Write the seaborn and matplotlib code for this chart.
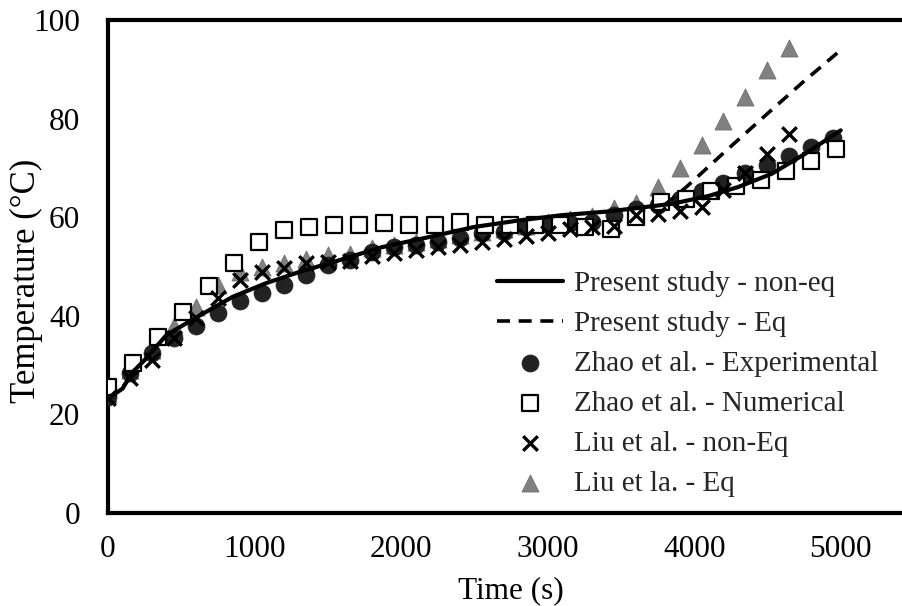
import matplotlib
matplotlib.use("Agg")
import matplotlib.pyplot as plt
import seaborn as sns
import numpy as np

# ---------------- data ----------------
# Present study - non-eq (solid line)
line_noneq_t = [0, 100, 160, 250, 400, 630, 850, 1080, 1310, 1540, 1870, 2200,
                2500, 2800, 3100, 3400, 3600, 3850, 4100, 4300, 4530, 4760, 5000]
line_noneq_T = [23.2, 25.2, 28.3, 31.0, 36.1, 40.1, 43.8, 46.6, 48.9, 50.9, 53.9, 56.0,
                58.0, 59.3, 60.4, 61.1, 61.8, 62.7, 64.3, 66.1, 68.8, 72.9, 77.6]

# Present study - Eq (dashed line, visible part)
line_eq_t = [3800, 3950, 4200, 4500, 4750, 5000]
line_eq_T = [62.5, 66.2, 73.0, 81.0, 87.6, 93.9]

# Zhao et al. - Experimental (filled circles)
zhao_exp_t = [0, 150, 300, 450, 600, 750, 900, 1050, 1200, 1350, 1500, 1650,
              1800, 1950, 2100, 2250, 2400, 2550, 2700, 2850, 3000, 3150, 3300,
              3450, 3600, 3750, 3900, 4050, 4200, 4350, 4500, 4650, 4800, 4950]
zhao_exp_T = [23.5, 28.4, 32.5, 35.4, 37.9, 40.6, 43.0, 44.5, 46.3, 48.2, 50.3, 51.3,
              53.0, 53.9, 54.3, 55.0, 55.7, 56.7, 57.0, 57.9, 58.4, 58.7, 59.1,
              60.4, 61.6, 62.5, 63.6, 65.2, 67.0, 68.9, 70.6, 72.4, 74.3, 76.0]

# Zhao et al. - Numerical (open squares)
zhao_num_t = [0, 171, 343, 514, 686, 857, 1029, 1200, 1371, 1543, 1714, 1886,
              2057, 2229, 2400, 2571, 2743, 2914, 3086, 3257, 3429, 3600, 3771,
              3943, 4114, 4286, 4457, 4629, 4800, 4971]
zhao_num_T = [25.6, 30.3, 35.6, 40.8, 46.0, 50.6, 55.0, 57.4, 58.0, 58.4, 58.4, 58.7,
              58.4, 58.4, 58.9, 58.4, 58.4, 58.4, 58.4, 58.0, 57.5, 60.1, 63.1,
              63.6, 65.2, 66.3, 67.5, 69.4, 71.4, 73.8]

# Liu et al. - non-Eq (crosses)
liu_noneq_t = [0, 150, 300, 450, 600, 750, 900, 1050, 1200, 1350, 1500, 1650,
               1800, 1950, 2100, 2250, 2400, 2550, 2700, 2850, 3000, 3150, 3300,
               3450, 3600, 3750, 3900, 4050, 4200, 4350, 4500, 4650]
liu_noneq_T = [23.2, 27.3, 31.0, 35.4, 39.5, 43.5, 47.2, 48.9, 49.6, 50.6, 50.9, 51.1,
               52.0, 52.8, 53.3, 54.0, 54.3, 55.0, 55.5, 56.2, 56.8, 57.5, 58.0,
               58.2, 60.4, 60.6, 61.3, 62.1, 65.5, 68.9, 72.9, 76.8]

# Liu et la. - Eq (grey triangles)
liu_eq_t = [0, 150, 300, 450, 600, 750, 900, 1050, 1200, 1350, 1500, 1650,
            1800, 1950, 2100, 2250, 2400, 2550, 2700, 2850, 3000, 3150, 3300,
            3450, 3600, 3750, 3900, 4050, 4200, 4350, 4500, 4650]
liu_eq_T = [24.0, 29.0, 33.0, 37.8, 41.8, 46.2, 48.9, 49.9, 50.6, 51.4, 52.3, 52.6,
            53.7, 54.3, 55.0, 55.6, 56.3, 57.0, 57.6, 58.2, 58.9, 59.6, 60.3,
            61.8, 62.8, 66.2, 69.9, 74.6, 79.4, 84.4, 89.9, 94.3]

x_ticks = [0, 1000, 2000, 3000, 4000, 5000]
y_ticks = [0, 20, 40, 60, 80, 100]
x_label = "Time (s)"
y_label = "Temperature (°C)"
labels = ["Present study - non-eq", "Present study - Eq",
          "Zhao et al. - Experimental", "Zhao et al. - Numerical",
          "Liu et al. - non-Eq", "Liu et la. - Eq"]

# ---------------- plotting ----------------
sns.set_style("white")
plt.rcParams["font.family"] = ["Liberation Serif", "DejaVu Serif"]

fig = plt.figure(figsize=(9.02, 6.06), dpi=100)
ax = fig.add_axes([108 / 902, (606 - 512.7) / 606, (914 - 108) / 902, (512.7 - 20) / 606])

sns.lineplot(x=line_noneq_t, y=line_noneq_T, ax=ax, color="black", linewidth=3.0,
             label=labels[0], zorder=6)
sns.lineplot(x=line_eq_t, y=line_eq_T, ax=ax, color="black", linewidth=2.6,
             linestyle=(0, (3.6, 2.4)), label=labels[1], zorder=6)
sns.scatterplot(x=zhao_exp_t, y=zhao_exp_T, ax=ax, marker="o", s=150, color="#222222",
                edgecolor="#222222", linewidth=0.5, label=labels[2], zorder=3)
sns.scatterplot(x=zhao_num_t, y=zhao_num_T, ax=ax, marker="s", s=120, facecolor="white",
                edgecolor="black", linewidth=1.6, label=labels[3], zorder=4)
sns.scatterplot(x=liu_noneq_t, y=liu_noneq_T, ax=ax, marker="x", s=110, color="black",
                linewidth=2.4, label=labels[4], zorder=5)
sns.scatterplot(x=liu_eq_t, y=liu_eq_T, ax=ax, marker="^", s=150, color="#808080",
                edgecolor="#6e6e6e", linewidth=0.6, label=labels[5], zorder=2)

ax.set_xlim(0, 5500)
ax.set_ylim(0, 100)
ax.set_xticks(x_ticks)
ax.set_yticks(y_ticks)
ax.tick_params(axis="both", length=0, labelsize=22.5, colors="black")
ax.tick_params(axis="y", pad=20)
ax.tick_params(axis="x", pad=16)
ax.set_xlabel(x_label, fontsize=22.5, color="black", labelpad=9)
ax.set_ylabel(y_label, fontsize=25, color="black")
ax.yaxis.set_label_coords(-0.081, 0.47)
for side in ["left", "bottom", "top"]:
    ax.spines[side].set_visible(True)
    ax.spines[side].set_linewidth(3.0)
    ax.spines[side].set_color("black")
ax.spines["right"].set_visible(False)
ax.grid(False)

handles, _ = ax.get_legend_handles_labels()
leg = ax.legend(handles, labels, loc="upper left", bbox_to_anchor=(497 / 902, 1 - 271 / 606),
                bbox_transform=fig.transFigure, frameon=False, fontsize=21,
                handlelength=2.25, handletextpad=0.4, labelspacing=0.46,
                borderaxespad=0, borderpad=0)

fig.savefig("out.png", dpi=100)
